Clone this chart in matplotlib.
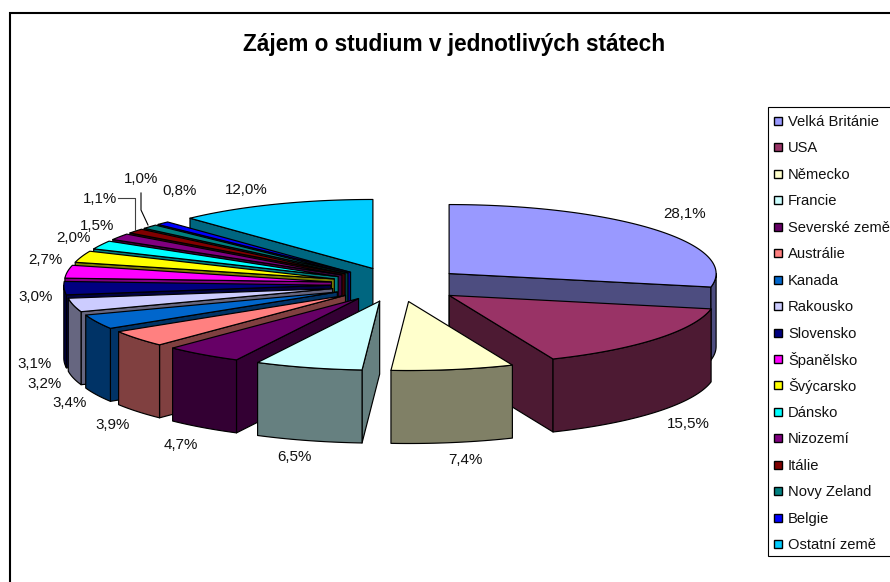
"""
Exploded 3D pie: interest in studying by country.
"""

import numpy as np
import matplotlib
matplotlib.use('Agg')
import matplotlib.pyplot as plt
from matplotlib.patches import Polygon, Rectangle

plt.rcParams['font.family'] = ['Liberation Sans', 'DejaVu Sans']

title = 'Zájem o studium v jednotlivých státech'
countries = ['Velká Británie', 'USA', 'Německo', 'Francie', 'Severské země',
             'Austrálie', 'Kanada', 'Rakousko', 'Slovensko', 'Španělsko',
             'Švýcarsko', 'Dánsko', 'Nizozemí', 'Itálie', 'Novy Zeland',
             'Belgie', 'Ostatní země']
shares = [28.1, 15.5, 7.4, 6.5, 4.7, 3.9, 3.4, 3.2, 3.1, 3.0,
          2.7, 2.0, 1.5, 1.1, 1.0, 0.8, 12.0]
top_colors = ['#9999FF', '#993366', '#FFFFCC', '#CCFFFF', '#660066',
              '#FF8080', '#0066CC', '#CCCCFF', '#000080', '#FF00FF',
              '#FFFF00', '#00FFFF', '#800080', '#800000', '#008080',
              '#0000FF', '#00CCFF']

# label centres in pixels, same order as shares
label_x = [685, 688, 465, 294, 181, 113, 70, 45, 35, 36, 45, 73, 97, 100, 141, 180, 246]
label_y = [214, 424, 460, 457, 445, 425, 403, 384, 364, 297, 260, 238, 226, 199, 179, 191, 190]

# pie geometry in pixels
CX, CY = 397.5, 284.5
RX, RY = 267, 69
DEPTH = 73
EXPLODE = 0.25


def shade(color):
    r, g, b = matplotlib.colors.to_rgb(color)
    return (r * 0.5, g * 0.5, b * 0.5)


def rim(apex, a, b):
    t = np.linspace(a, b, max(int((b - a) * 60), 2))
    return np.column_stack([apex[0] + RX * np.sin(t), apex[1] - RY * np.cos(t)])


def draw_slice(ax, a, b, color):
    mid = (a + b) / 2
    apex = np.array([CX + EXPLODE * RX * np.sin(mid), CY - EXPLODE * RY * np.cos(mid)])
    edge = rim(apex, a, b)
    down = np.array([0, DEPTH])
    side = shade(color)
    style = dict(edgecolor='black', linewidth=0.85, joinstyle='round')

    # radial faces, only if the body of the slice lies above the edge
    inner = rim(apex, mid, mid + 1e-3)[0]
    for p in (edge[0], edge[-1]):
        d = p - apex
        if abs(d[0]) < 1e-6:
            continue
        y_at = apex[1] + d[1] * (inner[0] - apex[0]) / d[0]
        if inner[1] < y_at:
            ax.add_patch(Polygon([apex, p, p + down, apex + down], facecolor=side, **style))

    # outer wall for the part of the rim that faces the viewer
    lo, hi = max(a, np.pi / 2), min(b, 3 * np.pi / 2)
    if hi > lo:
        wall = rim(apex, lo, hi)
        ax.add_patch(Polygon(np.vstack([wall, wall[::-1] + down]), facecolor=side, **style))

    ax.add_patch(Polygon(np.vstack([apex, edge]), facecolor=color, **style))


fig = plt.figure(figsize=(8.9, 5.82), dpi=100)
ax = fig.add_axes([0, 0, 1, 1])
ax.set_xlim(0, 890)
ax.set_ylim(582, 0)
ax.axis('off')

# chart frame, right and bottom sides are cut off by the picture
ax.add_patch(Rectangle((10, 13), 900, 600, facecolor='white', edgecolor='black', linewidth=1.5))

ax.text(454.5, 45, title, ha='center', va='center', fontsize=16.3, fontweight='bold')

# slices from back to front
fractions = np.array(shares) / np.sum(shares)
ends = np.cumsum(fractions) * 2 * np.pi
starts = ends - fractions * 2 * np.pi
order = np.argsort(-np.cos((starts + ends) / 2))
for i in order:
    draw_slice(ax, starts[i], ends[i], top_colors[i])

# leader lines for the two smallest labels that were moved out
ax.plot([118, 135, 135], [198, 198, 230], color='#404040', linewidth=0.8)
ax.plot([141, 141, 148], [193, 210, 225], color='black', linewidth=0.8)

for x, y, v in zip(label_x, label_y, shares):
    ax.text(x, y, f'{v:.1f}%'.replace('.', ','), ha='center', va='center',
            fontsize=10.9, color='#111111')

# legend
ax.add_patch(Rectangle((768, 107), 140, 448.5, facecolor='white', edgecolor='black', linewidth=0.8))
for i, (name, color) in enumerate(zip(countries, top_colors)):
    y = 121 + i * 26.44
    ax.add_patch(Rectangle((773.5, y - 4), 8, 8, facecolor=color, edgecolor='black', linewidth=1))
    ax.text(788, y + 1, name, ha='left', va='center', fontsize=10.6, color='#111111')

fig.savefig('out.png', dpi=100)
